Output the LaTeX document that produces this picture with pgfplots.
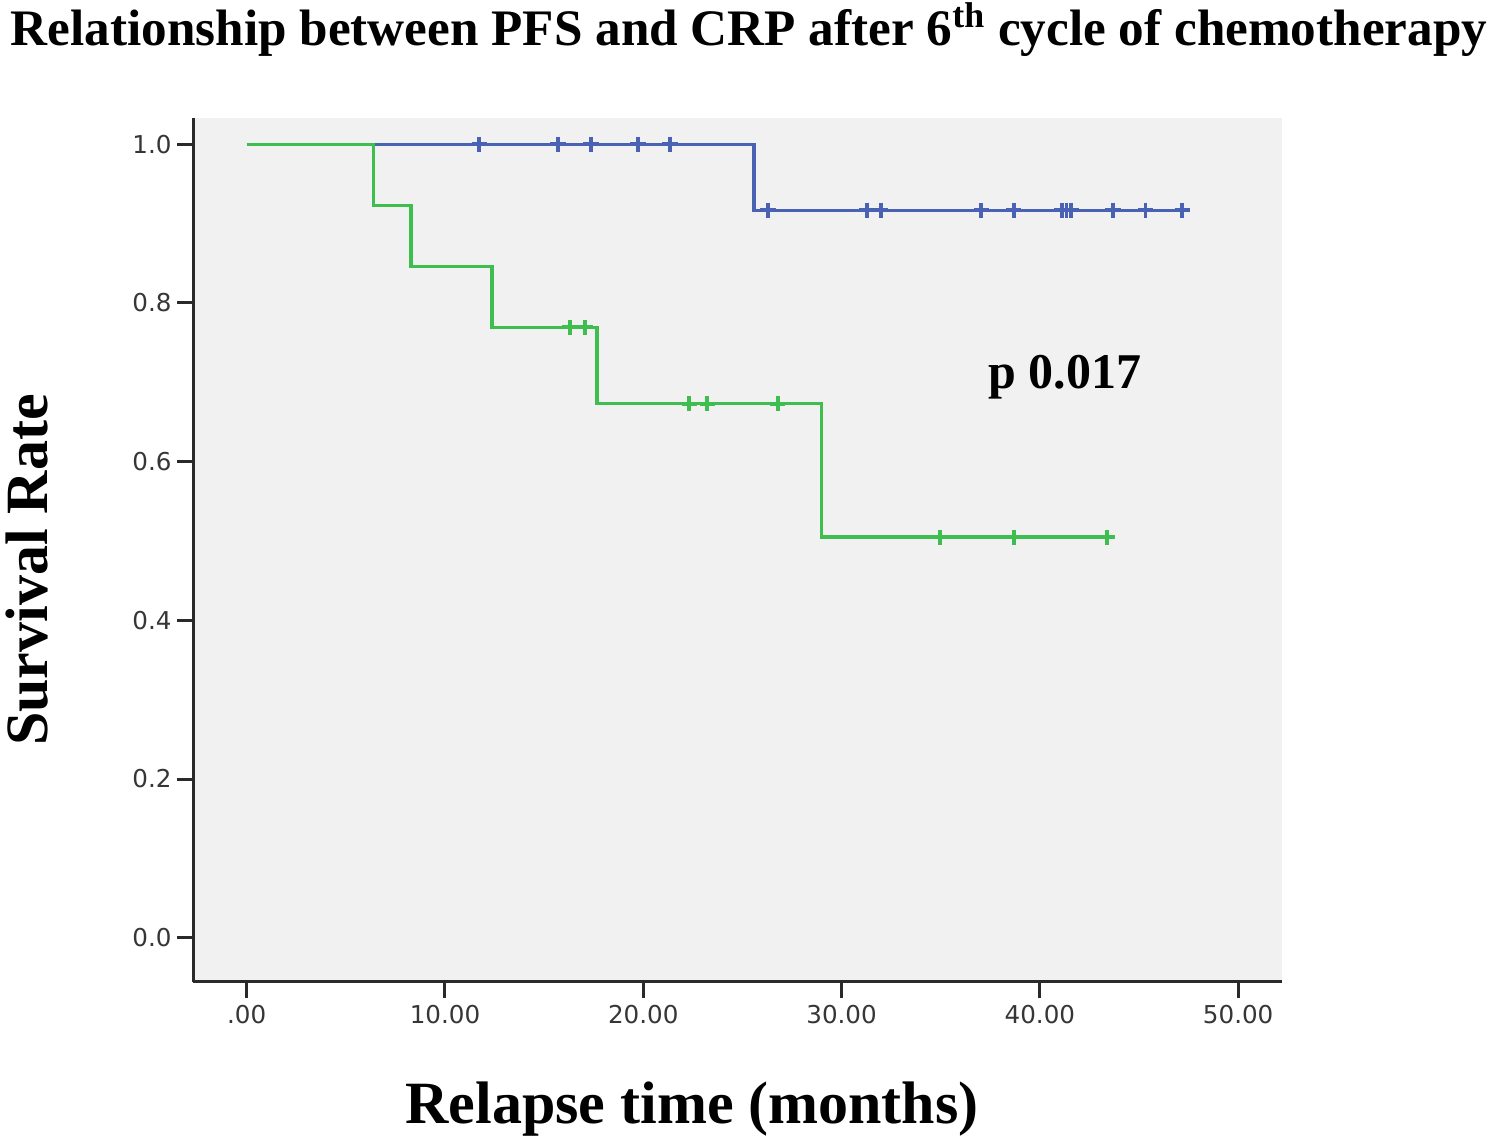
\documentclass[border=0pt]{standalone}
\usepackage{fontspec}
\setmainfont{Liberation Serif}
\newfontfamily\tickfont{DejaVu Sans}
\usepackage{pgfplots}
\pgfplotsset{compat=1.18}
\definecolor{kmblue}{HTML}{4A62B4}
\definecolor{kmgreen}{HTML}{3DBE4E}
\definecolor{panel}{HTML}{F1F1F1}
\definecolor{axisdark}{HTML}{2A2A2A}
\definecolor{tickgray}{HTML}{363636}

\begin{document}
\begin{tikzpicture}
% page frame: 1500x1139 px at 0.5bp per px
\path[use as bounding box] (0,0) rectangle (750bp,569.5bp);

\node[anchor=base, font=\bfseries\fontsize{25.6bp}{30bp}\selectfont]
  at (374.5bp,546.5bp) {Relationship between PFS and CRP after 6\textsuperscript{th} cycle of chemotherapy};
\node[anchor=base, rotate=90, font=\bfseries\fontsize{30bp}{34bp}\selectfont]
  at (23.5bp,284.5bp) {Survival Rate};
\node[anchor=base, font=\bfseries\fontsize{30bp}{34bp}\selectfont]
  at (346bp,8bp) {Relapse time (months)};

\begin{axis}[
    at={(96.5bp,78.5bp)}, anchor=south west,
    scale only axis,
    width=544.5bp, height=432bp,
    xmin=-2.708, xmax=52.21,
    ymin=-0.0558, ymax=1.0331,
    axis x line*=bottom, axis y line*=left,
    axis line style={axisdark, line width=1.5bp},
    axis background/.style={fill=panel},
    tick align=outside,
    major tick length=8bp,
    tick style={axisdark, line width=1.5bp},
    xtick={0,10,20,30,40,50},
    xticklabels={.00,10.00,20.00,30.00,40.00,50.00},
    ytick={0,0.2,0.4,0.6,0.8,1.0},
    yticklabels={0.0,0.2,0.4,0.6,0.8,1.0},
    ticklabel style={font=\tickfont\fontsize{12.3bp}{14bp}\selectfont, text=tickgray},
    yticklabel style={inner sep=2.5bp},
    clip=false,
]
% CRP group 1 (blue)
\addplot[const plot, kmblue, line width=1.7bp, no marks]
  coordinates {(0,1) (25.58,0.9167) (47.18,0.9167)};
\addplot[only marks, kmblue, mark=+, mark size=3.8bp, line width=1.9bp]
  coordinates {(11.72,1) (15.70,1) (17.36,1) (19.73,1) (21.35,1)
    (26.29,0.9167) (31.27,0.9167) (31.97,0.9167) (37.05,0.9167) (38.68,0.9167)
    (41.10,0.9167) (41.34,0.9167) (41.57,0.9167) (43.69,0.9167) (45.33,0.9167) (47.18,0.9167)};
% CRP group 2 (green)
\addplot[const plot, kmgreen, line width=1.7bp, no marks]
  coordinates {(0,1) (6.39,0.9231) (8.29,0.8462) (12.37,0.7692) (17.66,0.6731) (29.0,0.5048) (43.4,0.5048)};
\addplot[only marks, kmgreen, mark=+, mark size=3.8bp, line width=1.9bp]
  coordinates {(16.3,0.7692) (17.06,0.7692)
    (22.32,0.6731) (23.23,0.6731) (26.78,0.6731)
    (34.96,0.5048) (38.69,0.5048) (43.4,0.5048)};
\end{axis}

\node[anchor=base west, inner sep=0pt, font=\bfseries\fontsize{25bp}{30bp}\selectfont]
  at (494bp,375bp) {p 0.017};
\end{tikzpicture}
\end{document}
